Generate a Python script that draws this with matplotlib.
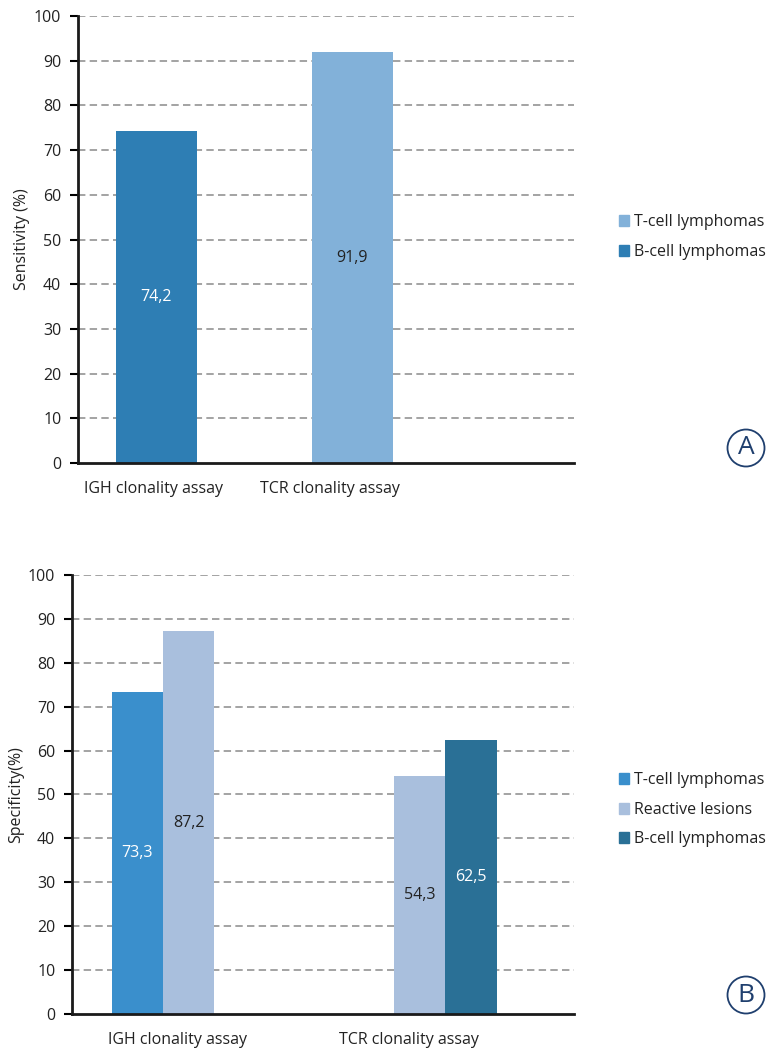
import numpy as np
import matplotlib.pyplot as plt
from matplotlib.patches import Ellipse

plt.rcParams['font.family'] = ['Open Sans', 'DejaVu Sans']

# panel A data
cats_a = ["IGH clonality assay", "TCR clonality assay"]
series_a = ["T-cell lymphomas", "B-cell lymphomas"]
vals_a = {"T-cell lymphomas": [np.nan, 91.9], "B-cell lymphomas": [74.2, np.nan]}
cols_a = {"T-cell lymphomas": "#82b1d9", "B-cell lymphomas": "#2e7eb4"}
txt_a = {"T-cell lymphomas": "#222222", "B-cell lymphomas": "white"}

# panel B data
cats_b = ["IGH clonality assay", "TCR clonality assay"]
series_b = ["T-cell lymphomas", "Reactive lesions", "B-cell lymphomas"]
vals_b = {"T-cell lymphomas": [73.3, np.nan],
          "Reactive lesions": [87.2, 54.3],
          "B-cell lymphomas": [np.nan, 62.5]}
cols_b = {"T-cell lymphomas": "#3a8fcc", "Reactive lesions": "#a9bfdd", "B-cell lymphomas": "#2a7096"}
txt_b = {"T-cell lymphomas": "white", "Reactive lesions": "#222222", "B-cell lymphomas": "white"}

fig = plt.figure(figsize=(7.81, 10.49), dpi=100)
axA = fig.add_axes([0.0999, 0.5586, 0.635, 0.4261])
axB = fig.add_axes([0.0922, 0.0334, 0.6428, 0.4185])


def draw(ax, cats, series, vals, cols, txtc, width, xlim, label_pos, ylab):
    for i, c in enumerate(cats):
        present = [s for s in series if not np.isnan(vals[s][i])]
        n = len(present)
        for j, s in enumerate(present):
            x = i + (j - (n - 1) / 2) * width
            v = vals[s][i]
            ax.bar(x, v, width, color=cols[s], zorder=3)
            ax.text(x, v / 2, str(v).replace('.', ','), ha='center', va='center',
                    color=txtc[s], fontsize=11.5, zorder=4)
    ax.set_xlim(*xlim)
    ax.set_ylim(0, 100)
    ax.set_yticks(np.arange(0, 101, 10))
    ax.set_xticks(label_pos)
    ax.set_xticklabels(cats, fontsize=11.5, color='#222222')
    ax.tick_params(axis='x', length=0, pad=13)
    ax.tick_params(axis='y', length=6, width=1.5, pad=6, labelsize=11.5, labelcolor='#222222')
    for sp in ['top', 'right']:
        ax.spines[sp].set_visible(False)
    for sp in ['left', 'bottom']:
        ax.spines[sp].set_linewidth(2)
        ax.spines[sp].set_color('#1a1a1a')
        ax.spines[sp].set_zorder(5)
    for y in range(10, 101, 10):
        ax.axhline(y, color='#a3a3a3', lw=1.4, ls=(0, (3.8, 2.2)), zorder=1)
    ax.set_ylabel(ylab, fontsize=11.5, color='#222222', labelpad=3)
    handles = [plt.Rectangle((0, 0), 1, 1, color=cols[s]) for s in series]
    return handles


hA = draw(axA, cats_a, series_a, vals_a, cols_a, txt_a, 0.413, (-0.40, 2.13), [-0.013, 0.885],
          "Sensitivity (%)")
hB = draw(axB, cats_b, series_b, vals_b, cols_b, txt_b, 0.182, (-0.322, 1.455), [0.05, 0.871],
          "Specificity(%)")

for ax, h, s, y in [(axA, hA, series_a, 0.774), (axB, hB, series_b, 0.228)]:
    ax.legend(h, s, loc='center left', bbox_to_anchor=(0.792, y),
              bbox_transform=fig.transFigure, frameon=False, fontsize=11.5,
              handlelength=0.65, handleheight=0.65, handletextpad=0.3, labelspacing=0.85,
              labelcolor='#222222', borderaxespad=0, borderpad=0)

for letter, cy in [("A", 448), ("B", 995)]:
    fx, fy = 746 / 781, 1 - cy / 1049
    fig.add_artist(Ellipse((fx, fy), 37 / 781, 37 / 1049, transform=fig.transFigure,
                           fill=False, ec='#1f3f6e', lw=1.3))
    fig.text(fx, fy, letter, ha='center', va='center', color='#1f3f6e', fontsize=19)

fig.savefig("out.png", dpi=100)
